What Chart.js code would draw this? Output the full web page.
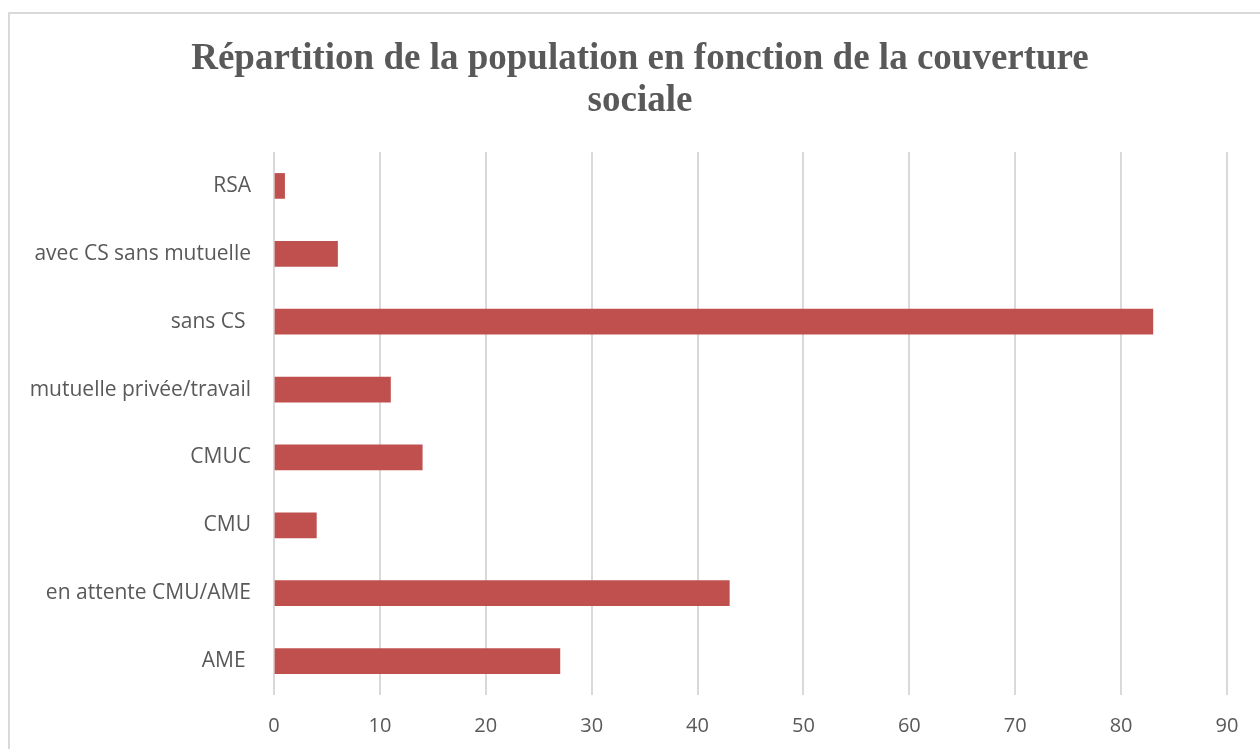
<!DOCTYPE html>
<html>
<head>
<meta charset="utf-8">
<script src="https://cdn.jsdelivr.net/npm/chart.js@4"></script>
<style>
  html, body { margin: 0; padding: 0; background: #fff; overflow: hidden; }
  #frame { position: absolute; left: 8px; top: 12px; width: 1300px; height: 800px; border: 2px solid #d9d9d9; }
  #wrap { position: absolute; left: 0; top: 0; width: 1260px; height: 749px; }
</style>
</head>
<body>
<div id="frame"></div>
<div id="wrap"><canvas id="chart" width="1260" height="749"></canvas></div>
<script>
const categories = ["RSA", "avec CS sans mutuelle", "sans CS ", "mutuelle privée/travail", "CMUC", "CMU", "en attente CMU/AME", "AME "];
const values = [1, 6, 83, 11, 14, 4, 43, 27];
const xTicks = [0, 10, 20, 30, 40, 50, 60, 70, 80, 90];

const textColor = "#595959";
const gridColor = "#d9d9d9";

// centre the title on the whole frame, not on the padded box
const centerTitle = {
    id: "centerTitle",
    afterLayout(chart) {
        const t = chart.titleBlock;
        if (t) {
            t.left = 20;
            t.right = 1260;
            t.width = 1240;
        }
    },
};

new Chart(document.getElementById("chart"), {
    type: "bar",
    data: {
        labels: categories,
        datasets: [
            {
                data: values,
                backgroundColor: "#C0504D",
                barThickness: 25,
            },
        ],
    },
    options: {
        indexAxis: "y",
        responsive: false,
        animation: false,
        layout: { padding: { left: 0, right: 33, top: 0, bottom: 0 } },
        plugins: {
            legend: { display: false },
            tooltip: { enabled: false },
            title: {
                display: true,
                text: ["Répartition de la population en fonction de la couverture", "sociale"],
                color: textColor,
                font: { family: "'Liberation Serif', serif", size: 37, weight: "bold", lineHeight: 1.135 },
                padding: { top: 38, bottom: 30 },
            },
        },
        scales: {
            x: {
                min: 0,
                max: 90,
                afterBuildTicks: (scale) => {
                    scale.ticks = xTicks.map((v) => ({ value: v }));
                },
                afterFit: (scale) => {
                    scale.height = 54;
                },
                grid: { color: gridColor, lineWidth: 2, drawTicks: false },
                border: { display: false },
                ticks: {
                    color: textColor,
                    padding: 19,
                    font: { family: "'Open Sans', sans-serif", size: 20 },
                },
            },
            y: {
                afterFit: (scale) => {
                    scale.width = 274;
                },
                grid: { display: false, drawTicks: false },
                border: { display: false },
                ticks: {
                    color: textColor,
                    padding: 23,
                    font: { family: "'Open Sans', sans-serif", size: 21 },
                },
            },
        },
    },
    plugins: [centerTitle],
});
</script>
</body>
</html>
